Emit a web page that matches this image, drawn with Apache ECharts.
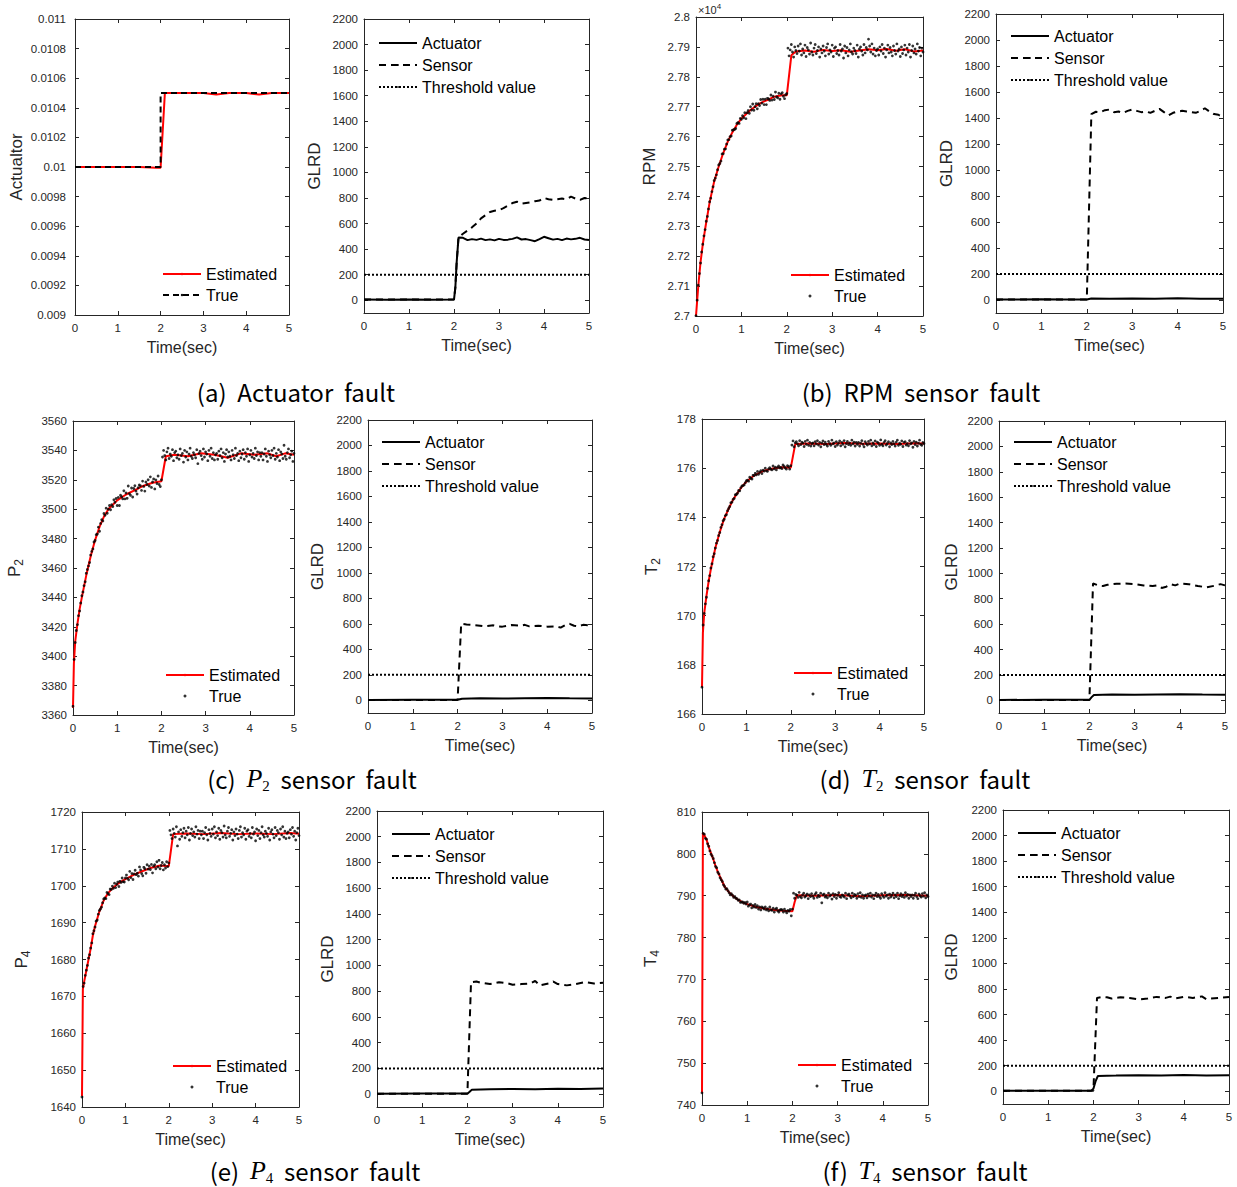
<!DOCTYPE html>
<html>
<head>
<meta charset="utf-8">
<script src="https://cdn.jsdelivr.net/npm/echarts@6/dist/echarts.min.js"></script>
<style>
  html, body { margin: 0; padding: 0; background: #fff; }
  #myDiv { width: 1237px; height: 1187px; }
</style>
</head>
<body>
<div id="myDiv"></div>
<script>
// ---------------------------------
// Data
// ---------------------------------
const THRESHOLD = 200;

// time stamps of the measured ("True") samples, sec
const tTrue = [
  0,0.025,0.05,0.075,0.1,0.125,0.15,0.175,0.2,0.225,0.25,0.275,0.3,0.325,0.35,0.375,0.4,0.425,0.45,0.475,
  0.5,0.525,0.55,0.575,0.6,0.625,0.65,0.675,0.7,0.725,0.75,0.775,0.8,0.825,0.85,0.875,0.9,0.925,0.95,0.975,
  1,1.025,1.05,1.075,1.1,1.125,1.15,1.175,1.2,1.225,1.25,1.275,1.3,1.325,1.35,1.375,1.4,1.425,1.45,1.475,
  1.5,1.525,1.55,1.575,1.6,1.625,1.65,1.675,1.7,1.725,1.75,1.775,1.8,1.825,1.85,1.875,1.9,1.925,1.95,1.975,
  2,
  2.025,2.05,2.075,2.1,2.125,2.15,2.175,2.2,2.225,2.25,2.275,2.3,2.325,2.35,2.375,2.4,2.425,2.45,2.475,2.5,
  2.525,2.55,2.575,2.6,2.625,2.65,2.675,2.7,2.725,2.75,2.775,2.8,2.825,2.85,2.875,2.9,2.925,2.95,2.975,3,
  3.025,3.05,3.075,3.1,3.125,3.15,3.175,3.2,3.225,3.25,3.275,3.3,3.325,3.35,3.375,3.4,3.425,3.45,3.475,3.5,
  3.525,3.55,3.575,3.6,3.625,3.65,3.675,3.7,3.725,3.75,3.775,3.8,3.825,3.85,3.875,3.9,3.925,3.95,3.975,4,
  4.025,4.05,4.075,4.1,4.125,4.15,4.175,4.2,4.225,4.25,4.275,4.3,4.325,4.35,4.375,4.4,4.425,4.45,4.475,4.5,
  4.525,4.55,4.575,4.6,4.625,4.65,4.675,4.7,4.725,4.75,4.775,4.8,4.825,4.85,4.875,4.9,4.925,4.95,4.975,5];

// (a) Actuator fault
const yTicksA = [0.009,0.0092,0.0094,0.0096,0.0098,0.01,0.0102,0.0104,0.0106,0.0108,0.011];
const estA = [[0,0.01],[0.5,0.01],[1,0.01],[1.5,0.01],[1.9,0.009995],[2,0.009995],[2.1,0.0105],[2.5,0.0105],
  [3,0.0105],[3.3,0.01049],[3.6,0.0105],[4,0.0105],[4.3,0.01049],[4.6,0.0105],[5,0.0105]];
const trueA = [[0,0.01],[2,0.01],[2,0.0105],[5,0.0105]];
const actA = [[0,5],[0.5,4],[1,6],[1.5,4],[2,5],[2.03,100],[2.06,300],[2.1,490],[2.2,488],[2.3,470],[2.4,478],
  [2.5,472],[2.6,482],[2.7,470],[2.8,476],[2.9,468],[3,480],[3.1,472],[3.2,474],[3.3,480],[3.4,492],[3.5,475],
  [3.6,478],[3.7,470],[3.8,462],[3.9,478],[4,496],[4.1,485],[4.2,474],[4.3,480],[4.4,470],[4.5,482],[4.6,476],
  [4.7,480],[4.8,488],[4.9,475],[5,472]];
const senA = [[0,5],[2,5],[2.03,100],[2.06,300],[2.1,490],[2.2,520],[2.3,545],[2.4,570],[2.5,600],[2.6,640],
  [2.7,665],[2.8,690],[2.9,700],[3,705],[3.1,720],[3.2,740],[3.3,760],[3.4,770],[3.5,755],[3.6,760],[3.7,765],
  [3.8,775],[3.9,780],[4,800],[4.1,790],[4.2,785],[4.3,790],[4.4,795],[4.5,790],[4.6,810],[4.7,795],[4.8,785],
  [4.9,800],[5,795]];

// (b) RPM sensor fault
const estB = [[0,27000],[0.05,27100],[0.1,27180],[0.15,27240],[0.2,27290],[0.3,27380],[0.4,27450],[0.5,27500],
  [0.6,27545],[0.7,27583],[0.8,27614],[0.9,27640],[1,27660],[1.1,27675],[1.2,27689],[1.3,27700],[1.4,27710],
  [1.5,27718],[1.6,27724],[1.7,27732],[1.8,27736],[1.9,27738],[2,27738],[2.1,27872],[2.2,27885],[2.4,27888],
  [2.6,27884],[2.8,27890],[3,27886],[3.2,27889],[3.4,27884],[3.6,27888],[3.8,27892],[4,27889],[4.2,27893],
  [4.4,27887],[4.6,27892],[4.8,27885],[5,27888]];
const trueB = [
  27001,27053,27103,27142,27177,27214,27240,27268,27289,27317,27333,27358,27382,27394,27416,27432,27453,27461,27472,27489,
  27505,27510,27518,27542,27543,27558,27559,27575,27589,27590,27600,27602,27621,27623,27624,27627,27644,27647,27644,27661,
  27658,27670,27663,27680,27660,27680,27687,27678,27700,27689,27709,27688,27700,27710,27693,27710,27704,27724,27712,27725,
  27707,27725,27707,27728,27726,27721,27739,27722,27735,27724,27749,27733,27730,27745,27725,27743,27747,27735,27727,27740,
  27744,
  27896,27870,27890,27908,27883,27866,27900,27888,27878,27903,27886,27910,27873,27893,27880,27906,27868,27898,27890,27876,
  27913,27883,27873,27896,27908,27878,27888,27900,27866,27893,27880,27903,27886,27870,27898,27910,27876,27890,27883,27906,
  27868,27896,27900,27878,27888,27873,27908,27886,27893,27863,27903,27880,27898,27870,27890,27910,27883,27876,27896,27888,
  27878,27906,27866,27893,27900,27886,27873,27908,27880,27898,27890,27926,27903,27883,27910,27876,27896,27870,27888,27893,
  27873,27900,27886,27908,27878,27896,27866,27890,27906,27880,27898,27883,27870,27903,27888,27876,27910,27886,27893,27868,
  27900,27878,27890,27906,27873,27896,27883,27908,27866,27888,27903,27880,27893,27876,27910,27886,27898,27870,27896,27883];
const actB = [[0,3],[0.5,4],[1,6],[1.5,3],[2,4],[2.1,12],[2.5,10],[3,12],[3.5,10],[4,14],[4.5,10],[5,10]];
const senB = [[0,3],[2,3],[2.1,1430],[2.2,1448],[2.3,1445],[2.4,1460],[2.5,1465],[2.6,1445],[2.7,1450],
  [2.8,1440],[2.9,1455],[3,1465],[3.1,1455],[3.2,1445],[3.3,1450],[3.4,1440],[3.5,1455],[3.6,1470],[3.7,1445],
  [3.8,1420],[3.9,1440],[4,1450],[4.1,1455],[4.2,1450],[4.3,1445],[4.4,1440],[4.5,1455],[4.6,1475],[4.7,1450],
  [4.8,1430],[4.9,1425],[5,1405]];

// (c) P2 sensor fault
const estC = [[0,3365],[0.02,3395],[0.05,3410],[0.1,3422],[0.15,3432],[0.2,3440],[0.3,3455],[0.4,3468],
  [0.5,3479],[0.6,3488],[0.7,3495],[0.8,3500],[0.9,3503],[1,3506],[1.2,3510],[1.4,3513],[1.6,3516],[1.8,3518],
  [2,3519],[2.1,3536],[2.3,3537],[2.6,3536],[2.9,3538],[3.2,3537],[3.5,3535],[3.8,3538],[4.1,3537],[4.4,3538],
  [4.6,3536],[4.8,3538],[5,3537]];
const trueC = [
  3365.9,3397.8,3409.3,3417.5,3421.5,3427.6,3430.8,3436.2,3441.1,3443.7,3448,3450.6,3456.4,3459,3461.4,3463.7,3468.8,3471.3,3473,3477.7,
  3478.7,3482.7,3483.1,3487.8,3485,3490.3,3492.9,3492,3497.1,3495.9,3500.7,3497.2,3500,3502.5,3499.6,3503.1,3501.8,3506.4,3504.7,3507.3,
  3502.5,3508,3502.5,3509.5,3508.5,3507,3512.5,3507,3511,3507.4,3515.8,3510.6,3509.5,3514.4,3508.3,3514.1,3516,3512.4,3510.3,3514.6,
  3516.5,3515.9,3512.8,3519.1,3515.5,3512.3,3518.5,3516.8,3520,3515.8,3522,3514.8,3518.5,3520.6,3513.8,3519.9,3517.5,3522.6,3516.8,3515.4,
  3520,
  3535.5,3540,3536.5,3533.5,3539,3541.5,3534.5,3537.5,3536,3540.5,3533,3538.5,3539.5,3535,3537,3534,3541,3536.5,3538,3532,
  3540,3535.5,3539,3533.5,3537.5,3541.5,3536,3534.5,3538.5,3537,3535,3540.5,3531,3538,3539.5,3536.5,3534,3541,3535.5,3539,
  3537.5,3533,3540,3536,3541.5,3534.5,3538.5,3533.5,3537,3538,3534,3539.5,3536.5,3541,3535,3538.5,3532.5,3537.5,3540.5,3535.5,
  3539,3536,3533.5,3540,3537,3534.5,3541.5,3536.5,3538,3533,3539.5,3535,3537.5,3540.5,3534,3538.5,3536,3541,3532.5,3537,
  3540,3535.5,3538,3534.5,3541.5,3536.5,3539,3533.5,3538.5,3536,3538.5,3533.5,3537.5,3541,3536,3532.5,3539.5,3537,3535,3540,
  3536.5,3541.5,3534,3538,3535.5,3540.5,3533,3539,3537.5,3534.5,3543.5,3536,3534,3538.5,3541,3535,3537,3539.5,3532.5,3538];
const actC = [[0,3],[1,4],[2,4],[2.1,12],[2.5,15],[3,13],[3.5,15],[4,17],[4.5,15],[5,14]];
const senC = [[0,3],[2,3],[2.08,600],[2.2,595],[2.3,592],[2.5,585],[2.6,580],[2.8,588],[2.9,580],[3,578],
  [3.2,590],[3.4,585],[3.5,592],[3.6,580],[3.8,585],[4,578],[4.2,580],[4.3,570],[4.4,590],[4.5,600],[4.6,585],
  [4.7,580],[4.8,592],[5,585]];

// (d) T2 sensor fault
const estD = [[0,167.1],[0.02,169.3],[0.05,170.1],[0.1,170.8],[0.15,171.4],[0.2,171.9],[0.3,172.75],[0.4,173.4],
  [0.5,173.95],[0.6,174.35],[0.7,174.72],[0.8,175],[0.9,175.25],[1,175.45],[1.1,175.6],[1.2,175.73],[1.4,175.9],
  [1.6,175.99],[1.8,176.04],[2,176.02],[2.1,176.98],[2.4,177],[2.8,176.98],[3.2,177.02],[3.6,176.99],[4,177],
  [4.4,176.98],[4.8,177.01],[5,177]];
const trueD = [
  167.09,169.62,170.09,170.48,170.75,171.11,171.42,171.63,171.94,172.11,172.4,172.52,172.75,172.95,173.06,173.26,173.38,173.59,173.7,173.86,
  173.92,174.07,174.11,174.27,174.36,174.44,174.59,174.62,174.73,174.77,174.92,174.93,174.98,175.09,175.08,175.21,175.28,175.29,175.32,175.41,
  175.49,175.51,175.47,175.63,175.59,175.56,175.71,175.7,175.79,175.73,175.87,175.75,175.84,175.9,175.78,175.92,175.88,176,175.89,175.87,
  175.97,176.02,175.96,175.93,176.09,175.97,176.04,175.93,176.03,176.09,176.01,176.03,175.98,176.13,176.07,176.01,175.96,176.1,176.06,175.96,
  176.1,
  176.94,177.11,176.87,177.03,177.08,176.99,176.91,177.12,176.96,177.06,177.02,176.88,177.09,176.97,177.14,176.93,177.05,176.9,177,177.03,
  176.91,177.08,176.99,177.12,176.94,177.05,176.87,177.02,177.11,176.96,177.06,176.97,176.9,177.09,177,176.93,177.14,176.99,177.03,176.88,
  177.08,176.94,177.02,177.11,176.91,177.05,176.97,177.12,176.87,177,177.09,176.96,177.03,176.93,177.14,176.99,177.06,176.9,177.05,176.97,
  177.05,176.9,177.02,177.12,176.97,176.87,177.08,177,176.94,177.09,176.99,177.14,176.91,177.03,176.96,177.11,176.88,177.06,177.02,176.93,
  177.15,176.97,176.91,177.05,177.12,176.94,177,177.08,176.87,177.03,176.96,177.09,176.99,176.9,177.06,177.14,176.93,177.02,176.97,177.11,
  176.88,177.05,177.08,176.94,177,176.91,177.12,176.99,177.03,176.85,177.09,176.96,177.06,176.9,177.02,177.14,176.97,176.93,177.05,177];
const actD = [[0,3],[1,4],[2,4],[2.05,25],[2.1,42],[2.5,45],[3,44],[3.5,46],[4,48],[4.5,45],[5,44]];
const senD = [[0,3],[2,3],[2.08,920],[2.2,905],[2.3,900],[2.4,910],[2.6,918],[2.8,920],[3,915],[3.2,905],
  [3.4,900],[3.5,905],[3.6,885],[3.7,895],[3.8,915],[3.9,905],[4,920],[4.2,915],[4.4,900],[4.6,890],[4.8,905],
  [4.9,915],[5,905]];

// (e) P4 sensor fault
const estE = [[0,1643],[0.02,1672],[0.05,1674],[0.1,1677],[0.15,1680],[0.2,1683],[0.25,1686.5],[0.3,1689],
  [0.4,1693],[0.5,1696],[0.6,1698],[0.7,1699.3],[0.8,1700.3],[0.9,1701.1],[1,1701.8],[1.2,1703],[1.4,1704],
  [1.6,1704.9],[1.8,1705.5],[2,1705.3],[2.1,1714],[2.4,1714.2],[2.8,1714],[3.2,1714.3],[3.6,1714],[4,1714.2],
  [4.4,1714],[4.8,1714.3],[5,1714.1]];
const trueE = [
  1642.7,1672.7,1673.6,1675.7,1677.1,1678.4,1680.4,1681.3,1683.1,1684.5,1687,1687.8,1688.8,1690.4,1690.7,1692.3,1693.3,1693.7,1694.2,1695.4,
  1696.4,1696.7,1696.5,1698.2,1697.9,1697.6,1699.1,1699,1699.9,1699.3,1700.7,1699.5,1700.4,1701,1699.8,1701.2,1700.9,1702.1,1701.1,1701,
  1702.1,1702.9,1702,1701.6,1703.9,1702.2,1703.3,1701.7,1703.2,1704.2,1703,1703.4,1702.6,1705.1,1704.3,1703.3,1702.7,1705,1704.6,1703.4,
  1705.7,1704.5,1705.3,1704.4,1705.8,1703.5,1705.3,1705.7,1704.6,1706.5,1705.1,1706.9,1704.6,1705.5,1706.3,1704.3,1705.7,1704.8,1706.5,1705.2,
  1706.2,
  1715,1713.8,1712.8,1715.4,1714.2,1713.2,1716,1710.8,1714.6,1712.6,1715.2,1713.4,1714.4,1715.6,1713,1714.8,1713.8,1715.8,1712.4,1714.2,
  1715.4,1713.6,1714.6,1713.2,1716,1714,1715,1712.8,1714.8,1713.8,1714.8,1712.8,1714.4,1715.8,1713.8,1712.4,1715.2,1714.2,1713.4,1715.4,
  1714,1716,1713,1714.6,1713.6,1715.6,1712.6,1715,1714.4,1713.2,1716.2,1713.8,1713,1714.8,1715.8,1713.4,1714.2,1715.2,1712.4,1714.6,
  1713.6,1715.4,1714,1712.8,1715,1716,1713.2,1714.4,1713.8,1715.6,1712.6,1714.8,1715.2,1713.4,1714.2,1713,1715.8,1714,1714.6,1712.2,
  1715.4,1713.6,1715,1712.8,1714.4,1716,1713.8,1713.2,1714.8,1714.2,1713.4,1715.6,1712.4,1714.6,1715.2,1714,1713,1715.8,1713.6,1715,
  1714.4,1712.6,1715.4,1713.8,1716,1713.2,1714.8,1712.8,1714.2,1714.6,1713,1715.2,1714,1715.8,1713.4,1714.8,1712.4,1714.4,1715.6,1713.6];
const actE = [[0,3],[1,4],[2,4],[2.05,18],[2.1,35],[2.5,38],[3,40],[3.5,38],[4,42],[4.5,40],[5,44]];
const senE = [[0,3],[2,3],[2.08,870],[2.2,875],[2.3,865],[2.5,855],[2.7,870],[2.9,860],[3,850],[3.2,855],
  [3.4,860],[3.5,880],[3.6,845],[3.8,860],[3.9,875],[4,855],[4.2,845],[4.4,855],[4.6,870],[4.8,860],[5,865]];

// (f) T4 sensor fault
const estF = [[0,743],[0.02,805],[0.05,804.5],[0.1,803.4],[0.15,801.6],[0.2,800.1],[0.25,798.7],[0.3,797.1],
  [0.35,795.7],[0.4,794.5],[0.5,792.2],[0.6,790.8],[0.7,789.8],[0.8,789],[0.9,788.4],[1,788],[1.2,787.3],
  [1.4,786.9],[1.6,786.6],[1.8,786.4],[2,786.3],[2.05,788.5],[2.1,790.1],[2.5,790],[3,790.2],[3.5,789.9],
  [4,790.1],[4.5,790.2],[5,790]];
const trueF = [
  742.9,804.9,804.7,803.7,803.5,802.4,801.8,800.7,799.9,799.5,798.9,797.9,797,796.7,795.6,795.2,794.3,793.8,793.4,792.6,
  792.2,791.6,791.7,791.2,790.7,790.2,790.5,790.1,789.6,789.8,789.4,789.3,788.9,789,788.4,788.5,788.5,788.2,788.4,788,
  788.5,787.5,787.8,788,787.1,787.7,787.3,787.9,787.2,787.6,786.8,787.3,786.6,787.3,787.1,786.8,787.3,786.6,786.9,786.4,
  787.3,786.6,786.5,787,786.1,786.8,787,786.4,786.1,786.6,786.7,786.6,786.1,786.8,786.3,785.9,786.5,786.3,786.7,785.2,
  786.8,
  790.6,789.4,790.3,790.1,789.6,790.8,789.8,789.5,790.2,790.6,789.7,790,790.4,789.3,790.2,789.8,790.5,789.9,789.4,790.3,
  790.7,789.6,790.1,789.8,790.6,788.3,790.2,790.4,789.7,790,789.5,790.6,789.9,790.2,789.2,790.5,789.8,790.3,789.4,790.1,
  790.7,789.8,789.6,790.2,790,789.7,790.6,789.3,790.2,790.4,789.9,789.5,790.6,789.8,790.3,790.1,789.4,790.5,789.8,790.7,
  789.6,790.2,789.4,790,790.2,789.5,790.4,789.9,790.6,789.7,790.2,789.3,790.1,790.6,789.8,790.3,789.8,789.4,790.5,790,
  789.6,790.7,789.9,790.2,789.4,790.4,789.7,790.1,790.6,789.5,790.2,789.8,790.6,789.3,790,790.5,789.8,790.2,789.6,790.7,
  789.9,790.3,789.4,790.2,789.8,790.2,789.4,790.1,790.6,789.8,789.3,790.4,790,789.7,790.5,789.9,790.7,789.5,790.2,789.8];
const actF = [[0,3],[1,4],[1.95,4],[2,20],[2.05,80],[2.1,120],[2.5,122],[3,125],[3.5,123],[4,126],[4.5,122],[5,125]];
const senF = [[0,3],[2,3],[2.08,730],[2.2,738],[2.3,735],[2.4,725],[2.6,735],[2.8,730],[3,718],[3.2,725],
  [3.4,738],[3.6,730],[3.7,740],[3.8,725],[4,738],[4.2,730],[4.4,742],[4.5,720],[4.6,725],[4.8,730],[5,738]];

// GLRD y ticks (axis runs from -100)
const glrdTicks = [0,200,400,600,800,1000,1200,1400,1600,1800,2000,2200];

// Captions
const SP = '\u00a0\u00a0';
const captions = [
  '(a)' + SP + 'Actuator' + SP + 'fault',
  '(b)' + SP + 'RPM' + SP + 'sensor' + SP + 'fault',
  '(c)' + SP + '{it|P}{sub|2}' + SP + 'sensor' + SP + 'fault',
  '(d)' + SP + '{it|T}{sub|2}' + SP + 'sensor' + SP + 'fault',
  '(e)' + SP + '{it|P}{sub|4}' + SP + 'sensor' + SP + 'fault',
  '(f)' + SP + '{it|T}{sub|4}' + SP + 'sensor' + SP + 'fault'
];

// ---------------------------------
// Layout
// ---------------------------------
const FONT = 'Liberation Sans, Arial, sans-serif';
const AXIS = '#262626';

// left panels: estimate vs true
const LEFT = [
  {key: 'a', box: [75, 19, 214, 296], min: 0.009, max: 0.011, ticks: yTicksA,
   fmt: v => String(parseFloat(v.toFixed(4))), name: 'Actualtor', gap: 50,
   est: estA, truth: trueA, legend: [162, 266]},
  {key: 'b', box: [696, 17, 227, 299], min: 27000, max: 28000, interval: 100,
   fmt: v => String(parseFloat((v / 1e4).toFixed(3))), name: 'RPM', gap: 38,
   est: estB, truth: trueB, legend: [790, 267]},
  {key: 'c', box: [73, 421, 221, 294], min: 3360, max: 3560, interval: 20,
   name: '{m|P}{s|2}', gap: 48, est: estC, truth: trueC, legend: [165, 667]},
  {key: 'd', box: [702, 419, 222, 295], min: 166, max: 178, interval: 2,
   name: '{m|T}{s|2}', gap: 40, est: estD, truth: trueD, legend: [793, 665]},
  {key: 'e', box: [82, 812, 217, 295], min: 1640, max: 1720, interval: 10,
   name: '{m|P}{s|4}', gap: 50, est: estE, truth: trueE, legend: [172, 1058]},
  {key: 'f', box: [702, 812, 226, 293], min: 740, max: 810, interval: 10,
   name: '{m|T}{s|4}', gap: 41, est: estF, truth: trueF, legend: [797, 1057]}
];

// right panels: GLRD statistics
const RIGHT = [
  {key: 'a', box: [364, 19, 225, 294], gap: 41, act: actA, sen: senA, legend: [378, 35]},
  {key: 'b', box: [996, 14, 227, 299], gap: 41, act: actB, sen: senB, legend: [1010, 28]},
  {key: 'c', box: [368, 420, 224, 293], gap: 42, act: actC, sen: senC, legend: [381, 434]},
  {key: 'd', box: [999, 421, 226, 292], gap: 39, act: actD, sen: senD, legend: [1013, 434]},
  {key: 'e', box: [377, 811, 226, 296], gap: 41, act: actE, sen: senE, legend: [391, 826]},
  {key: 'f', box: [1003, 810, 226, 294], gap: 43, act: actF, sen: senF, legend: [1017, 825]}
];

const CAPTION_POS = [[296, 376], [921, 376], [312, 763], [925, 763], [315, 1155], [925, 1155]];

// ---------------------------------
// Build options
// ---------------------------------
const grids = [];
const xAxes = [];
const yAxes = [];
const series = [];
const legends = [];
const titles = [];

const nameRich = {
  m: {fontSize: 17, color: AXIS, fontFamily: FONT, lineHeight: 22},
  s: {fontSize: 12, color: AXIS, fontFamily: FONT, lineHeight: 12, verticalAlign: 'bottom'}
};

function xAx(i, pos) {
  return {
    type: 'value', gridIndex: i, position: pos, min: 0, max: 5, interval: 1,
    axisLine: {show: true, onZero: false, lineStyle: {color: AXIS, width: 1}},
    axisTick: {show: true, inside: true, length: 4, lineStyle: {color: AXIS}},
    axisLabel: {show: pos === 'bottom', fontSize: 11.5, color: AXIS, margin: 7, fontFamily: FONT},
    splitLine: {show: false},
    name: pos === 'bottom' ? 'Time(sec)' : '',
    nameLocation: 'middle', nameGap: 24,
    nameTextStyle: {fontSize: 16, color: AXIS, fontFamily: FONT}
  };
}

function yAx(i, pos, c) {
  const ax = {
    type: 'value', gridIndex: i, position: pos, min: c.min, max: c.max,
    axisLine: {show: true, onZero: false, lineStyle: {color: AXIS, width: 1}},
    axisTick: {show: true, inside: true, length: 4, lineStyle: {color: AXIS}},
    axisLabel: {show: pos === 'left', fontSize: 11.5, color: AXIS, margin: c.margin || 6, fontFamily: FONT,
                formatter: c.fmt || (v => String(v))},
    splitLine: {show: false},
    name: pos === 'left' ? c.name : '',
    nameLocation: 'middle', nameGap: c.gap,
    nameTextStyle: {fontSize: 17, color: AXIS, fontFamily: FONT, rich: nameRich}
  };
  if (c.interval) ax.interval = c.interval;
  if (c.ticks) {
    ax.axisLabel.customValues = c.ticks;
    ax.axisTick.customValues = c.ticks;
  }
  return ax;
}

function addGrid(box) {
  grids.push({left: box[0], top: box[1], width: box[2], height: box[3], containLabel: false, outerBoundsMode: 'none'});
  return grids.length - 1;
}

const legendName = n => n.split(':')[1];

// left panels
LEFT.forEach(p => {
  const i = addGrid(p.box);
  xAxes.push(xAx(i, 'bottom'), xAx(i, 'top'));
  yAxes.push(yAx(i, 'left', Object.assign({margin: p.key === 'a' ? 9 : 6}, p)), yAx(i, 'right', p));
  const xi = xAxes.length - 2, yi = yAxes.length - 2;

  series.push({
    name: p.key + ':Estimated', type: 'line', xAxisIndex: xi, yAxisIndex: yi,
    data: p.est, showSymbol: false, symbol: 'none', silent: true, z: 2,
    lineStyle: {color: '#ff0000', width: 2}, itemStyle: {color: '#ff0000'}
  });
  if (p.key === 'a') {
    series.push({
      name: p.key + ':True', type: 'line', xAxisIndex: xi, yAxisIndex: yi,
      data: p.truth, showSymbol: false, symbol: 'none', silent: true, z: 3,
      lineStyle: {color: '#000', width: 2, type: [6, 4]}, itemStyle: {color: '#000'}
    });
  } else {
    series.push({
      name: p.key + ':True', type: 'scatter', xAxisIndex: xi, yAxisIndex: yi,
      data: tTrue.map((t, j) => [t, p.truth[j]]), symbol: 'circle', symbolSize: 2.8,
      silent: true, z: 3, itemStyle: {color: '#000'}
    });
  }
  legends.push({
    left: p.legend[0], top: p.legend[1], orient: 'vertical', padding: 0,
    itemGap: 5, itemWidth: 38, itemHeight: 3, selectedMode: false,
    data: [p.key + ':Estimated', p.key + ':True'], formatter: legendName,
    textStyle: {fontSize: 16, color: '#000', fontFamily: FONT}
  });
});

// right panels
RIGHT.forEach(p => {
  const i = addGrid(p.box);
  const c = {min: -100, max: 2200, ticks: glrdTicks, name: 'GLRD', gap: p.gap};
  xAxes.push(xAx(i, 'bottom'), xAx(i, 'top'));
  yAxes.push(yAx(i, 'left', c), yAx(i, 'right', c));
  const xi = xAxes.length - 2, yi = yAxes.length - 2;

  series.push({
    name: p.key + ':Sensor', type: 'line', xAxisIndex: xi, yAxisIndex: yi,
    data: p.sen, showSymbol: false, symbol: 'none', silent: true, z: 2,
    lineStyle: {color: '#000', width: 2, type: [7, 5]}, itemStyle: {color: '#000'}
  });
  series.push({
    name: p.key + ':Actuator', type: 'line', xAxisIndex: xi, yAxisIndex: yi,
    data: p.act, showSymbol: false, symbol: 'none', silent: true, z: 3,
    lineStyle: {color: '#000', width: 2}, itemStyle: {color: '#000'}
  });
  series.push({
    name: p.key + ':Threshold value', type: 'line', xAxisIndex: xi, yAxisIndex: yi,
    data: [[0, THRESHOLD], [5, THRESHOLD]], showSymbol: false, symbol: 'none', silent: true, z: 3,
    lineStyle: {color: '#000', width: 2, type: [2, 2]}, itemStyle: {color: '#000'}
  });
  // tiny itemHeight keeps the legend's marker hidden under the line sample
  legends.push({
    left: p.legend[0], top: p.legend[1], orient: 'vertical', padding: 0,
    itemGap: 6, itemWidth: 38, itemHeight: 2, selectedMode: false,
    data: [p.key + ':Actuator', p.key + ':Sensor', p.key + ':Threshold value'], formatter: legendName,
    textStyle: {fontSize: 16, color: '#000', fontFamily: FONT}
  });
});

// captions
captions.forEach((txt, k) => {
  titles.push({
    text: txt, left: CAPTION_POS[k][0], top: CAPTION_POS[k][1], textAlign: 'center', padding: 0,
    textStyle: {
      fontSize: 24, fontWeight: 'normal', color: '#000', fontFamily: 'Noto Sans CJK KR', lineHeight: 30,
      rich: {
        it: {fontSize: 26, fontStyle: 'italic', fontFamily: 'Liberation Serif', color: '#000', lineHeight: 30},
        sub: {fontSize: 15, fontFamily: 'Liberation Serif', color: '#000', lineHeight: 15, verticalAlign: 'bottom'}
      }
    }
  });
});

// RPM exponent
titles.push({
  text: '\u00d710{sup|4}', left: 698, top: 2, padding: 0,
  textStyle: {
    fontSize: 11, fontWeight: 'normal', color: AXIS, fontFamily: FONT, lineHeight: 16,
    rich: {sup: {fontSize: 8, color: AXIS, fontFamily: FONT, lineHeight: 8, verticalAlign: 'top'}}
  }
});

// Create graph
var chartDom = document.getElementById('myDiv');
var myChart = echarts.init(chartDom, null, {renderer: 'svg', width: 1237, height: 1187});

var option = {
  backgroundColor: '#fff',
  animation: false,
  title: titles,
  legend: legends,
  grid: grids,
  xAxis: xAxes,
  yAxis: yAxes,
  series: series
};

option && myChart.setOption(option);
</script>
</body>
</html>
